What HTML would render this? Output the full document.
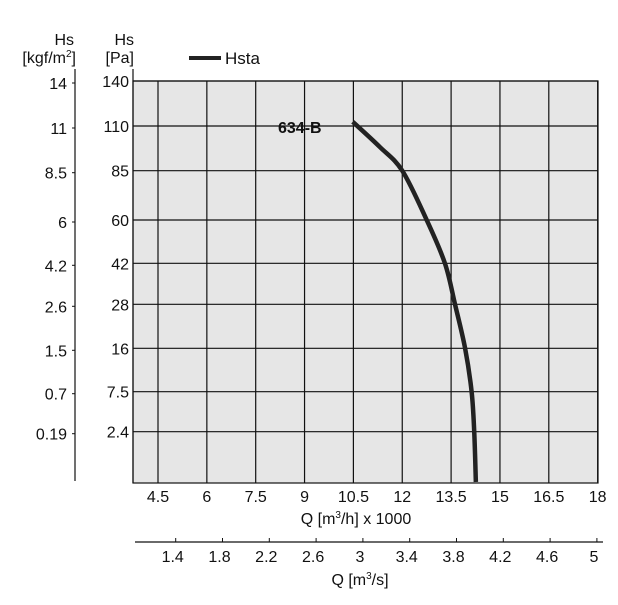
<!DOCTYPE html>
<html><head><meta charset="utf-8"><style>
body{margin:0;background:#fff;}
svg text{font-family:"Liberation Sans",sans-serif;fill:#111;}
</style></head><body>
<svg id="c" width="618" height="600" viewBox="0 0 618 600">
<rect x="133" y="81" width="465" height="402" fill="#e6e6e6"/>
<g id="grid"></g>
<g id="axes"></g>
<g id="curve"></g>
<text x="74" y="45" font-size="16" text-anchor="end">Hs</text>
<text x="76" y="63" font-size="16" text-anchor="end">[kgf/m<tspan font-size="10" dy="-6">2</tspan><tspan dy="6">]</tspan></text>
<text x="134" y="45" font-size="16" text-anchor="end">Hs</text>
<text x="134" y="63" font-size="16" text-anchor="end">[Pa]</text>
<line x1="189" y1="58" x2="221" y2="58" stroke="#222" stroke-width="4"/>
<text x="225" y="64" font-size="17">Hsta</text>
<text x="278" y="133" font-size="16" font-weight="bold">634-B</text>
<text x="356" y="524" font-size="16" text-anchor="middle">Q [m<tspan font-size="10" dy="-6">3</tspan><tspan dy="6">/h] x 1000</tspan></text>
<text x="360" y="585" font-size="16" text-anchor="middle">Q [m<tspan font-size="10" dy="-6">3</tspan><tspan dy="6">/s]</tspan></text>
</svg>
<script>
const qTicks=[4.5,6,7.5,9,10.5,12,13.5,15,16.5,18];
const qTickLabels=["4.5","6","7.5","9","10.5","12","13.5","15","16.5","18"];
const paTicks=[2.4,7.5,16,28,42,60,85,110,140];
const paTickLabels=["2.4","7.5","16","28","42","60","85","110","140"];
const kgfTickLabels=["0.19","0.7","1.5","2.6","4.2","6","8.5","11","14"];
const qsTicks=[1.4,1.8,2.2,2.6,3,3.4,3.8,4.2,4.6,5];
const qsTickLabels=["1.4","1.8","2.2","2.6","3","3.4","3.8","4.2","4.6","5"];
const curveQ=[10.48,11.31,12.0,12.75,13.31,13.62,13.93,14.13,14.21,14.26];
const curveH=[112.8,98.3,85,60,42,28,16,7.5,2.4,0];

const NS="http://www.w3.org/2000/svg";
function xQ(q){return 158+(q-4.5)/1.5*48.85;}
function xQs(q){return 175.7+(q-1.4)/0.4*46.8;}
const yVals=[0,2.4,7.5,16,28,42,60,85,110,140];
const yPix=[482,431.7,391.7,348.3,304.3,263.3,220,170.7,126,81];
function yH(h){
  for(let i=0;i<yVals.length-1;i++){
    if(h<=yVals[i+1]||i===yVals.length-2){
      const t=(h-yVals[i])/(yVals[i+1]-yVals[i]);
      return yPix[i]+t*(yPix[i+1]-yPix[i]);
    }
  }
}
function mk(tag,attrs,parent,txt){
  const e=document.createElementNS(NS,tag);
  for(const k in attrs)e.setAttribute(k,attrs[k]);
  if(txt!==undefined)e.textContent=txt;
  parent.appendChild(e);return e;
}
const grid=document.getElementById('grid'),axes=document.getElementById('axes'),cv=document.getElementById('curve');
qTicks.forEach((q,i)=>{
  const x=xQ(q);
  const l=mk('line',{x1:x,y1:81,x2:x,y2:483,stroke:'#111','stroke-width':1.2},grid);
  
  
  const t=mk('text',{x:x,y:502,'font-size':16,'text-anchor':'middle'},axes,qTickLabels[i]);
  
  
});
paTicks.forEach((h,i)=>{
  const y=yH(h);
  const l=mk('line',{x1:133,y1:y,x2:598,y2:y,stroke:'#111','stroke-width':1.2},grid);
  
  
  const t=mk('text',{x:129,y:y+6,'font-size':16,'text-anchor':'end'},axes,paTickLabels[i]);
  
  
  const k=mk('text',{x:67,y:y+8,'font-size':16,'text-anchor':'end'},axes,kgfTickLabels[i]);
  
  
  const tk=mk('line',{x1:72,y1:y+2,x2:75,y2:y+2,stroke:'#111','stroke-width':1},axes);
  
  
});
const frame=mk('rect',{x:133,y:81,width:465,height:402,fill:'none',stroke:'#111','stroke-width':1.2},axes);


const pax=mk('line',{x1:133,y1:69,x2:133,y2:483,stroke:'#111','stroke-width':1.2},axes);


const kax=mk('line',{x1:75,y1:69,x2:75,y2:481,stroke:'#111','stroke-width':1.2},axes);


const sax=mk('line',{x1:135,y1:542,x2:603,y2:542,stroke:'#111','stroke-width':1.2},axes);


qsTicks.forEach((q,i)=>{
  const x=xQs(q);
  const tk=mk('line',{x1:x,y1:538,x2:x,y2:542,stroke:'#111','stroke-width':1},axes);
  
  
  const t=mk('text',{x:x-3,y:562,'font-size':16,'text-anchor':'middle'},axes,qsTickLabels[i]);
  
  
});
let d='';
const pts=curveQ.map((q,i)=>[xQ(q),yH(curveH[i])]);
d='M'+pts[0][0]+','+pts[0][1];
for(let i=0;i<pts.length-1;i++){
  const p0=pts[i-1]||pts[i],p1=pts[i],p2=pts[i+1],p3=pts[i+2]||p2;
  const c1=[p1[0]+(p2[0]-p0[0])/6,p1[1]+(p2[1]-p0[1])/6];
  const c2=[p2[0]-(p3[0]-p1[0])/6,p2[1]-(p3[1]-p1[1])/6];
  d+=' C'+c1+' '+c2+' '+p2;
}
const path=mk('path',{d:d,fill:'none',stroke:'#222','stroke-width':4.5},cv);


</script>
</body></html>
